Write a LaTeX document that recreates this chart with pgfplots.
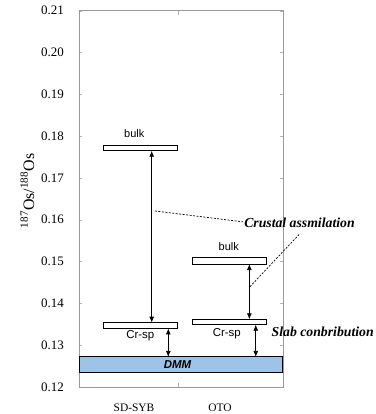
\documentclass[border=0pt]{standalone}
\usepackage{fontspec}
\setmainfont{Liberation Serif}
\newfontfamily\arial{Liberation Sans}
\usepackage{pgfplots}
\pgfplotsset{compat=1.18}
\usetikzlibrary{arrows.meta}
\definecolor{dmmblue}{HTML}{9DC3E6}
\begin{document}
\begin{tikzpicture}
\useasboundingbox (-79.3bp,-27bp) rectangle (296.7bp,387bp);
\begin{axis}[
  at={(0,0)}, anchor=south west,
  scale only axis, width=203.4bp, height=376.3bp,
  xmin=0, xmax=2, ymin=0.12, ymax=0.21,
  clip=false,
  axis line style={draw=gray!80},
  /pgf/number format/assume math mode=true,
  ytick={0.12,0.13,...,0.21},
  yticklabel style={/pgf/number format/fixed, /pgf/number format/fixed zerofill, /pgf/number format/precision=2, font=\fontsize{13}{13}\selectfont, xshift=-12bp},
  y tick style={draw=gray!60},
  tick align=inside,
  major tick length=3bp,
  xtick={0.538,1.383},
  xticklabels={SD-SYB,OTO},
  x tick style={draw=none},
  xticklabel style={font=\fontsize{11.5}{11.5}\selectfont, yshift=-13bp},
  extra x ticks={0.97},
  extra x tick labels={},
  extra x tick style={x tick style={draw=gray!60}, major tick length=4bp},
  ylabel={\textsuperscript{187}Os/\textsuperscript{188}Os},
  every axis y label/.style={at={(axis description cs:0,0.521)}, xshift=-52bp, rotate=90, anchor=center, font=\fontsize{16}{16}\selectfont},
]
% DMM band
\addplot[draw=black, line width=0.8pt, fill=dmmblue] coordinates {(0,0.1236) (2,0.1236) (2,0.1272) (0,0.1272)} -- cycle;
% boxes
\addplot[draw=black, line width=0.8pt, fill=white] coordinates {(0.236,0.1765) (0.965,0.1765) (0.965,0.1779) (0.236,0.1779)} -- cycle;
\addplot[draw=black, line width=0.8pt, fill=white] coordinates {(0.236,0.1340) (0.965,0.1340) (0.965,0.1354) (0.236,0.1354)} -- cycle;
\addplot[draw=black, line width=0.8pt, fill=white] coordinates {(1.110,0.1494) (1.842,0.1494) (1.842,0.1509) (1.110,0.1509)} -- cycle;
\addplot[draw=black, line width=0.8pt, fill=white] coordinates {(1.110,0.1349) (1.842,0.1349) (1.842,0.1362) (1.110,0.1362)} -- cycle;
% arrows
\addplot[black, line width=0.8pt, {Latex[length=6pt,width=5pt]}-{Latex[length=6pt,width=5pt]}] coordinates {(0.712,0.1765) (0.712,0.1354)};
\addplot[black, line width=0.8pt, {Latex[length=6pt,width=5pt]}-{Latex[length=6pt,width=5pt]}] coordinates {(0.875,0.1340) (0.875,0.1272)};
\addplot[black, line width=0.8pt, {Latex[length=6pt,width=5pt]}-{Latex[length=6pt,width=5pt]}] coordinates {(1.672,0.1494) (1.672,0.1362)};
\addplot[black, line width=0.8pt, {Latex[length=6pt,width=5pt]}-{Latex[length=6pt,width=5pt]}] coordinates {(1.735,0.1349) (1.735,0.1272)};
% dashed leaders
\addplot[black, line width=0.7pt, dash pattern=on 2pt off 1.5pt] coordinates {(0.744,0.1621) (1.61,0.1595)};
\addplot[black, line width=0.7pt, dash pattern=on 2pt off 1.5pt] coordinates {(1.678,0.1440) (2.17,0.1567)};
% labels
\node[font=\arial\fontsize{11}{11}\selectfont] at (axis cs:0.54,0.1805) {bulk};
\node[font=\arial\fontsize{11}{11}\selectfont] at (axis cs:1.47,0.1537) {bulk};
\node[font=\arial\fontsize{11.5}{11.5}\selectfont] at (axis cs:0.60,0.1322) {Cr-sp};
\node[font=\arial\fontsize{11.5}{11.5}\selectfont] at (axis cs:1.45,0.1327) {Cr-sp};
\node[font=\arial\bfseries\itshape\fontsize{11.5}{11.5}\selectfont] at (axis cs:0.965,0.1254) {DMM};
\node[anchor=west, inner sep=0pt, font=\bfseries\itshape\fontsize{13.8}{13.8}\selectfont] at (axis cs:1.62,0.1593) {Crustal assmilation};
\node[anchor=west, inner sep=0pt, font=\bfseries\itshape\fontsize{13.8}{13.8}\selectfont] at (axis cs:1.89,0.1331) {Slab conbribution};
\end{axis}
\end{tikzpicture}
\end{document}
